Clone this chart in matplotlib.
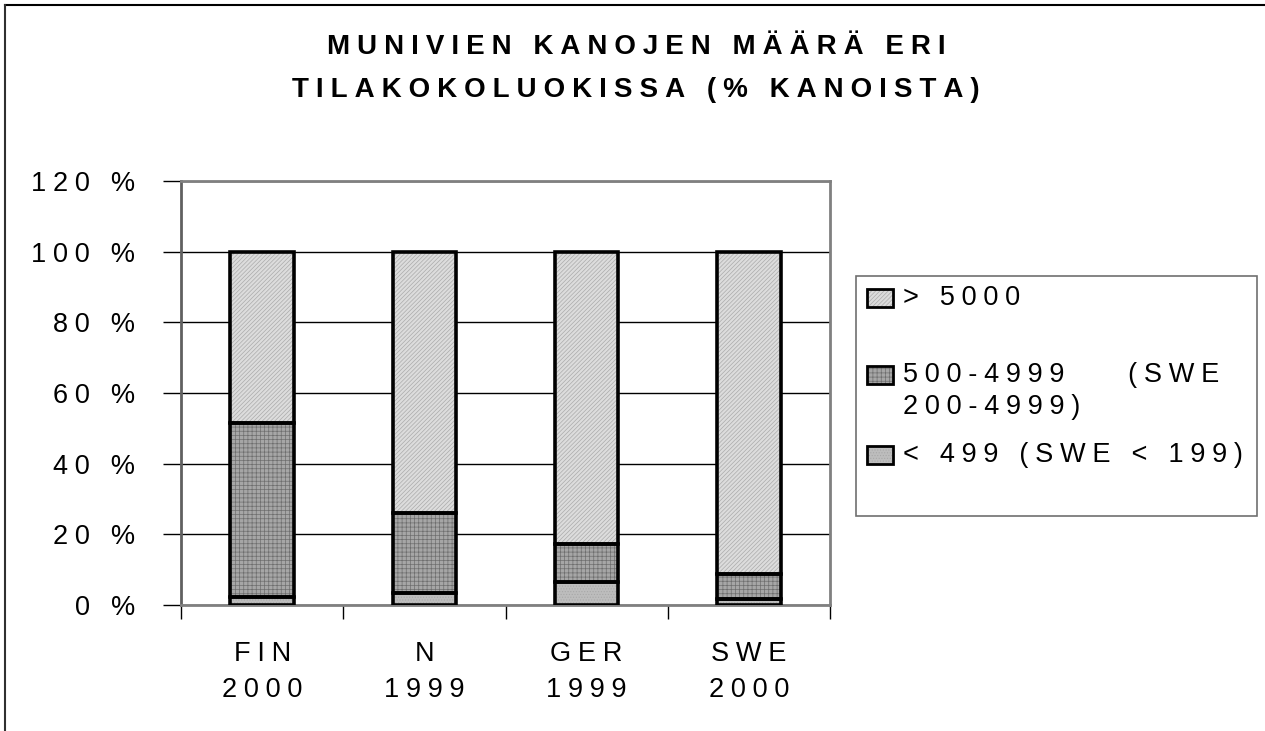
import matplotlib
matplotlib.use("Agg")
import matplotlib.pyplot as plt
from matplotlib.patches import Rectangle
from matplotlib.lines import Line2D
import numpy as np

plt.rcParams['font.family'] = ['Liberation Sans', 'DejaVu Sans']
plt.rcParams['hatch.linewidth'] = 0.5

categories = ["FIN\n2000", "N\n1999", "GER\n1999", "SWE\n2000"]
small = [2.3, 3.3, 6.6, 1.7]        # < 499 (SWE < 199)
medium = [49.1, 22.6, 10.6, 7.0]    # 500-4999 (SWE 200-4999)
large = [48.6, 74.1, 82.8, 91.3]    # > 5000
yticks = [0, 20, 40, 60, 80, 100, 120]
title_lines = ["MUNIVIEN KANOJEN MÄÄRÄ ERI", "TILAKOKOLUOKISSA (% KANOISTA)"]
legend_labels = ["> 5000", "500-4999    (SWE\n200-4999)", "< 499 (SWE < 199)"]

SP = "\u2005"
def spaced(s):
    return "\n".join(SP.join(list(line)) for line in s.split("\n"))

W, H = 1265, 731
fig = plt.figure(figsize=(W / 100, H / 100), dpi=100)
fig.patch.set_facecolor("white")

ax = fig.add_axes([181 / W, 1 - 605 / H, 649 / W, 424 / H])

styles = [
    dict(face="#bdbdbd", hatch="......", hcol="#a8a8a8"),    # small
    dict(face="#a6a6a6", hatch="++++", hcol="#6e6e6e"),      # medium
    dict(face="#dcdcdc", hatch="////////", hcol="#ababab"),  # large
]

x = np.arange(len(categories))
bw = 0.39
bottoms = np.zeros(len(categories))
for vals, st in zip([small, medium, large], styles):
    ax.bar(x, vals, bw, bottom=bottoms, color=st["face"], hatch=st["hatch"],
           edgecolor=st["hcol"], linewidth=0, zorder=3)
    ax.bar(x, vals, bw, bottom=bottoms, fill=False, edgecolor="black",
           linewidth=2.6, zorder=4)
    bottoms += np.array(vals)

ax.set_xlim(-0.5, len(categories) - 0.5)
ax.set_ylim(0, 120)
ax.set_yticks(yticks)
ax.set_yticklabels([spaced(f"{v} %") for v in yticks], fontsize=19.5)
ax.yaxis.grid(True, color="black", linewidth=1.0, zorder=1)
ax.set_axisbelow(True)

ax.set_xticks(x)
ax.set_xticklabels([spaced(c) for c in categories], fontsize=19.5, linespacing=1.5)
ax.tick_params(axis="x", which="major", length=0, pad=26)
ax.set_xticks(np.arange(-0.5, len(categories), 1.0), minor=True)
ax.tick_params(axis="x", which="minor", length=10, width=1, color="black", direction="out")
ax.tick_params(axis="y", length=13, width=1, color="black", direction="out", pad=20)

for side in ["top", "right"]:
    ax.spines[side].set_color("#808080")
    ax.spines[side].set_linewidth(2)
ax.spines["left"].set_color("#606060")
ax.spines["left"].set_linewidth(2)
ax.spines["bottom"].set_color("#808080")
ax.spines["bottom"].set_linewidth(2)

# Title (two lines)
for line, yy in zip(title_lines, [47, 90]):
    fig.text(636 / W, 1 - yy / H, spaced(line), ha="center", va="center",
             fontsize=20, fontweight="bold")

# Legend (manual)
fig.patches.append(Rectangle((856 / W, 1 - 516 / H), 401 / W, 240 / H,
                             transform=fig.transFigure, facecolor="white",
                             edgecolor="#707070", linewidth=1.2, zorder=1))
leg_styles = [styles[2], styles[1], styles[0]]
leg_y = [298, 375, 455]
for lab, st, yy in zip(legend_labels, leg_styles, leg_y):
    r = Rectangle((867 / W, 1 - (yy + 9) / H), 26 / W, 18 / H,
                  transform=fig.transFigure, facecolor=st["face"], hatch=st["hatch"],
                  edgecolor=st["hcol"], linewidth=0, zorder=2)
    fig.patches.append(r)
    r2 = Rectangle((867 / W, 1 - (yy + 9) / H), 26 / W, 18 / H,
                   transform=fig.transFigure, fill=False, edgecolor="black",
                   linewidth=2, zorder=3)
    fig.patches.append(r2)
    fig.text(903 / W, 1 - (yy - 13) / H, spaced(lab), ha="left", va="top",
             fontsize=19.5, linespacing=1.3)

# figure border (top & left)
fig.lines.append(Line2D([5 / W, 1], [1 - 5 / H, 1 - 5 / H], transform=fig.transFigure,
                        color="black", linewidth=1.5))
fig.lines.append(Line2D([5 / W, 5 / W], [0, 1 - 5 / H], transform=fig.transFigure,
                        color="#303030", linewidth=1.5))

fig.savefig("out.png", dpi=100, facecolor="white")
